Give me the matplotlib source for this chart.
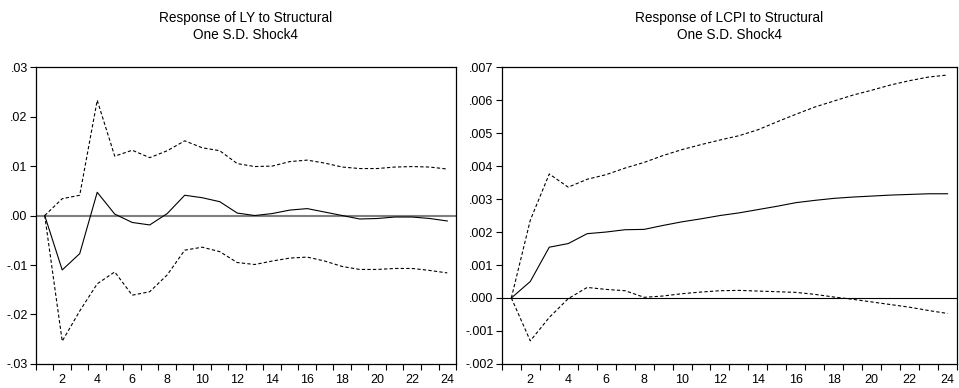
import matplotlib
matplotlib.use("Agg")
import matplotlib.pyplot as plt
import numpy as np
from matplotlib.ticker import FixedLocator, FuncFormatter

plt.rcParams["font.family"] = ["Liberation Sans", "DejaVu Sans"]

periods = list(range(1, 25))

ly_resp = [0.0, -0.0110, -0.0077, 0.0047, 0.0003, -0.0014, -0.0019, 0.0004,
           0.0041, 0.0036, 0.0028, 0.0005, 0.0000, 0.0004, 0.0011, 0.0014,
           0.0007, 0.0000, -0.0007, -0.0006, -0.0003, -0.0003, -0.0006, -0.0011]
ly_upper = [0.0, 0.0034, 0.0041, 0.0233, 0.0120, 0.0132, 0.0117, 0.0131,
            0.0151, 0.0137, 0.0131, 0.0105, 0.0099, 0.0100, 0.0109, 0.0112,
            0.0106, 0.0098, 0.0095, 0.0095, 0.0098, 0.0099, 0.0098, 0.0094]
ly_lower = [0.0, -0.0254, -0.0193, -0.0138, -0.0114, -0.0161, -0.0154, -0.0120,
            -0.0070, -0.0064, -0.0073, -0.0095, -0.0099, -0.0092, -0.0086, -0.0084,
            -0.0092, -0.0103, -0.0109, -0.0109, -0.0107, -0.0107, -0.0111, -0.0116]

lcpi_resp = [0.0, 0.00050, 0.00154, 0.00165, 0.00195, 0.00200, 0.00207, 0.00208,
             0.00220, 0.00231, 0.00240, 0.00250, 0.00258, 0.00268, 0.00278, 0.00289,
             0.00296, 0.00302, 0.00306, 0.00309, 0.00312, 0.00314, 0.00316, 0.00316]
lcpi_upper = [0.0, 0.00236, 0.00376, 0.00336, 0.00360, 0.00374, 0.00394, 0.00411,
              0.00432, 0.00450, 0.00465, 0.00479, 0.00492, 0.00510, 0.00534, 0.00557,
              0.00579, 0.00597, 0.00615, 0.00630, 0.00646, 0.00659, 0.00670, 0.00676]
lcpi_lower = [0.0, -0.00130, -0.00059, -0.00002, 0.00032, 0.00026, 0.00022, 0.00002,
              0.00006, 0.00013, 0.00018, 0.00022, 0.00023, 0.00021, 0.00019, 0.00017,
              0.00011, 0.00003, -0.00004, -0.00012, -0.00020, -0.00028, -0.00038, -0.00047]

ly_ticks = [-0.03, -0.02, -0.01, 0.0, 0.01, 0.02, 0.03]
lcpi_ticks = [-0.002, -0.001, 0.0, 0.001, 0.002, 0.003, 0.004, 0.005, 0.006, 0.007]


def eviews_fmt(decimals):
    def f(v, _pos):
        s = f"{v:.{decimals}f}"
        if s.startswith("-0"):
            s = "-" + s[2:]
        elif s.startswith("0"):
            s = s[1:]
        return s
    return FuncFormatter(f)


def draw_panel(ax, title, resp, upper, lower, yticks, decimals, zero_color, zero_lw):
    ax.axhline(0, color=zero_color, lw=zero_lw, zorder=1)
    ax.plot(periods, resp, color="black", lw=0.8, zorder=3)
    ax.plot(periods, upper, color="black", lw=0.8, ls=(0, (3, 2)), zorder=3)
    ax.plot(periods, lower, color="black", lw=0.8, ls=(0, (3, 2)), zorder=3)
    ax.set_xlim(0.5, 24.5)
    ax.set_ylim(yticks[0], yticks[-1])
    ax.set_yticks(yticks)
    ax.yaxis.set_major_formatter(eviews_fmt(decimals))
    # labels at even periods, ticks between periods
    ax.set_xticks(np.arange(2, 25, 2))
    ax.tick_params(axis="x", which="major", length=0, labelsize=9, pad=7)
    ax.xaxis.set_minor_locator(FixedLocator(np.arange(0.5, 25, 1.0)))
    ax.tick_params(axis="x", which="minor", length=4, width=0.8, direction="out")
    ax.tick_params(axis="y", length=4, width=0.8, labelsize=9, pad=2)
    for sp in ax.spines.values():
        sp.set_linewidth(0.9)
        sp.set_color("black")
    ax.set_title(title, fontsize=9.8, linespacing=1.3, pad=20)


fig = plt.figure(figsize=(9.59, 3.88), dpi=100)
ax1 = fig.add_axes([0.0375, 0.062, 0.438, 0.765])
ax2 = fig.add_axes([0.5233, 0.062, 0.4747, 0.765])

draw_panel(ax1, "Response of LY to Structural\nOne S.D. Shock4",
           ly_resp, ly_upper, ly_lower, ly_ticks, 2, "#7f7f7f", 1.5)
draw_panel(ax2, "Response of LCPI to Structural\nOne S.D. Shock4",
           lcpi_resp, lcpi_upper, lcpi_lower, lcpi_ticks, 3, "black", 0.8)

fig.savefig("out.png", dpi=100)
